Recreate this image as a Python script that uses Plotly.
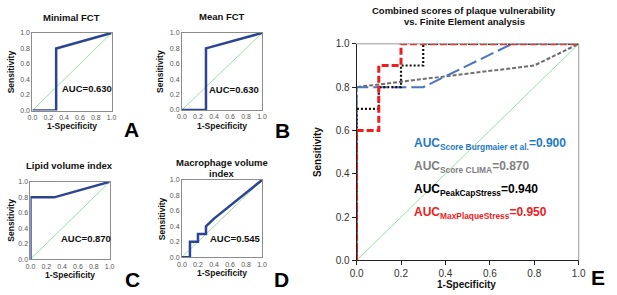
import plotly.graph_objects as go

W, H = 617, 295

# ---- data ----
fct_min_x = [0, 0.3, 0.3, 1.0]
fct_min_y = [0, 0.0, 0.8, 1.0]
fct_mean_x = [0, 0.3, 0.3, 1.0]
fct_mean_y = [0, 0.0, 0.8, 1.0]
lipid_x = [0, 0.0, 0.3, 1.0]
lipid_y = [0, 0.8, 0.8, 1.0]
macro_x = [0, 0.1, 0.1, 0.2, 0.2, 0.3, 0.3, 0.4, 1.0]
macro_y = [0, 0.0, 0.2, 0.2, 0.3, 0.3, 0.4, 0.5, 1.0]

burg_x = [0, 0.0, 0.3, 0.7, 1.0]
burg_y = [0, 0.8, 0.8, 1.0, 1.0]
clima_x = [0, 0.0, 0.8, 1.0]
clima_y = [0, 0.8, 0.9, 1.0]
peak_x = [0, 0.0, 0.1, 0.1, 0.2, 0.2, 0.3, 0.3, 1.0]
peak_y = [0, 0.7, 0.7, 0.8, 0.8, 0.9, 0.9, 1.0, 1.0]
maxp_x = [0, 0.0, 0.1, 0.1, 0.2, 0.2, 1.0]
maxp_y = [0, 0.6, 0.6, 0.9, 0.9, 1.0, 1.0]

ticks = [0.0, 0.2, 0.4, 0.6, 0.8, 1.0]
tick_text = ["0.0", "0.2", "0.4", "0.6", "0.8", "1.0"]

FONT = "Liberation Sans, Arial, sans-serif"
NAVY = "#2b4592"
GREEN = "#9be0a8"

fig = go.Figure()

def px_dom_x(a, b):
    return [a / W, b / W]

def px_dom_y(top, bot):
    return [1 - bot / H, 1 - top / H]

panels = [
    ("", (26, 107), (28, 108.6)),
    ("2", (179, 261), (28, 108)),
    ("3", (24, 105), (182.7, 263)),
    ("4", (179, 261), (180.7, 261)),
    ("5", (357.7, 585), (39.3, 264.3)),
]

small_curves = [(fct_min_x, fct_min_y), (fct_mean_x, fct_mean_y), (lipid_x, lipid_y), (macro_x, macro_y)]

shapes = []
for i, (aid, xr, yr) in enumerate(panels):
    xa = "x" + aid
    ya = "y" + aid
    big = aid == "5"
    fig.add_trace(go.Scatter(x=[0, 1], y=[0, 1], mode="lines", xaxis=xa, yaxis=ya,
                             line=dict(color=GREEN, width=1), showlegend=False, hoverinfo="skip",
                             cliponaxis=False))
    if not big:
        cx, cy = small_curves[i]
        fig.add_trace(go.Scatter(x=cx, y=cy, mode="lines", xaxis=xa, yaxis=ya,
                                 line=dict(color=NAVY, width=2.5), showlegend=False,
                                 cliponaxis=False))
    axkey = "xaxis" + aid
    aykey = "yaxis" + aid
    if big:
        common = dict(range=[0, 1], showline=True, mirror=False, linecolor="#222", linewidth=1,
                      showgrid=False, zeroline=False, tickvals=ticks, ticktext=tick_text,
                      ticks="outside", ticklen=4, tickcolor="#222",
                      tickfont=dict(family=FONT, size=10, color="#333"))
        shapes.append(dict(type="line", xref="x5 domain", yref="y5 domain", x0=0, x1=1, y0=1, y1=1,
                           line=dict(color="#999", width=1)))
        shapes.append(dict(type="line", xref="x5 domain", yref="y5 domain", x0=1, x1=1, y0=0, y1=1,
                           line=dict(color="#999", width=1)))
    else:
        common = dict(range=[0, 1], showline=True, mirror=True, linecolor="#8c8c8c", linewidth=1,
                      showgrid=False, zeroline=False, tickvals=ticks, ticktext=tick_text,
                      ticks="", ticklen=0,
                      tickfont=dict(family=FONT, size=7, color="#555"))
    fig.layout[axkey] = dict(domain=px_dom_x(*xr), anchor=ya, **common)
    fig.layout[aykey] = dict(domain=px_dom_y(*yr), anchor=xa, **common)

# Big panel curves
fig.add_trace(go.Scatter(x=clima_x, y=clima_y, mode="lines", xaxis="x5", yaxis="y5",
                         line=dict(color="#6e6e6e", width=2, dash="4px,2px"), showlegend=False, cliponaxis=False))
fig.add_trace(go.Scatter(x=burg_x, y=burg_y, mode="lines", xaxis="x5", yaxis="y5",
                         line=dict(color="#4a74c4", width=2, dash="14px,5px"), showlegend=False, cliponaxis=False))
fig.add_trace(go.Scatter(x=peak_x, y=peak_y, mode="lines", xaxis="x5", yaxis="y5",
                         line=dict(color="#111111", width=2.2, dash="2px,2px"), showlegend=False, cliponaxis=False))
fig.add_trace(go.Scatter(x=maxp_x, y=maxp_y, mode="lines", xaxis="x5", yaxis="y5",
                         line=dict(color="#ee1c1c", width=3, dash="7px,3px"), showlegend=False, cliponaxis=False))

ann = []
def txt(x, y, s, size, color="#111", bold=True, angle=0, xanchor="center"):
    ann.append(dict(x=x / W, y=1 - y / H, xref="paper", yref="paper", text=(f"<b>{s}</b>" if bold else s),
                    showarrow=False, textangle=angle, xanchor=xanchor, yanchor="middle",
                    font=dict(family=FONT, size=size, color=color)))

# titles
txt(66, 12, "Minimal FCT", 9.5)
txt(220, 11, "Mean FCT", 9.5)
txt(64, 166, "Lipid volume index", 9.5)
txt(220, 163, "Macrophage volume", 9.5)
txt(220, 174, "index", 9.5)
txt(468, 5, "Combined scores of plaque vulnerability", 9.5)
txt(468, 16, "vs. Finite Element analysis", 9.5)

# axis titles
for cx, cy in [(66, 125), (220, 125), (64, 279), (220, 277)]:
    txt(cx, cy, "1-Specificity", 8.5)
txt(5, 68, "Sensitivity", 8.5, angle=-90)
txt(157, 68, "Sensitivity", 8.5, angle=-90)
txt(4, 222, "Sensitivity", 8.5, angle=-90)
txt(158, 221, "Sensitivity", 8.5, angle=-90)
txt(470, 289, "1-Specificity", 10)
txt(318, 152, "Sensitivity", 10, angle=-90)

# AUC labels
txt(82, 86, "AUC=0.630", 9.5)
txt(232, 87, "AUC=0.630", 9.5)
txt(81, 242, "AUC=0.870", 9.5)
txt(234, 241, "AUC=0.545", 9.5)

txt(414, 143, "AUC<sub>Score Burgmaier et al.</sub>=0.900", 12, color="#1e7ac4", xanchor="left")
txt(414, 167, "AUC<sub>Score CLIMA</sub>=0.870", 12, color="#808080", xanchor="left")
txt(414, 191, "AUC<sub>PeakCapStress</sub>=0.940", 12, color="#000000", xanchor="left")
txt(414, 215, "AUC<sub>MaxPlaqueStress</sub>=0.950", 12, color="#ee1c1c", xanchor="left")

# panel letters
for cx, cy, s in [(127, 128, "A"), (282, 129, "B"), (128, 284, "C"), (281, 284, "D"), (605, 282, "E")]:
    txt(cx, cy, s, 21, color="#000")

fig.update_layout(width=W, height=H, margin=dict(l=0, r=0, t=0, b=0),
                  paper_bgcolor="white", plot_bgcolor="white", annotations=ann, shapes=shapes)

fig.write_html("out.html", config={"displayModeBar": False},
               post_script="document.body.style.margin='0';document.body.style.overflow='hidden';")
